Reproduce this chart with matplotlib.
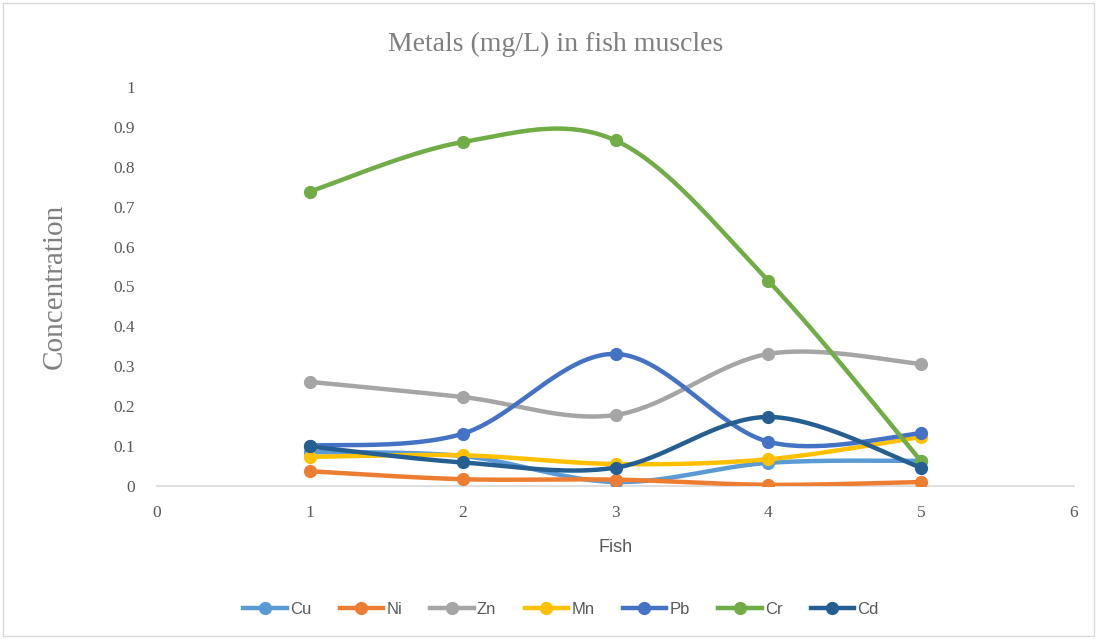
import numpy as np
import matplotlib
matplotlib.use('Agg')
import matplotlib.pyplot as plt
from matplotlib.patches import Rectangle

# fish number and metal concentrations (mg/L)
fish = [1, 2, 3, 4, 5]
cu = [0.085, 0.075, 0.010, 0.058, 0.063]
ni = [0.037, 0.017, 0.016, 0.003, 0.010]
zn = [0.261, 0.223, 0.178, 0.331, 0.306]
mn = [0.073, 0.077, 0.055, 0.067, 0.123]
pb = [0.101, 0.131, 0.331, 0.111, 0.132]
cr = [0.738, 0.862, 0.866, 0.514, 0.062]
cd = [0.099, 0.059, 0.046, 0.173, 0.046]

names = ['Cu', 'Ni', 'Zn', 'Mn', 'Pb', 'Cr', 'Cd']
series = [cu, ni, zn, mn, pb, cr, cd]
colors = ['#5B9BD5', '#ED7D31', '#A5A5A5', '#FFC000', '#4472C4', '#70AD47', '#255E91']


def smooth(x, y, n=40):
    # cubic Bezier through each point, Catmull-Rom style tangents
    x = np.asarray(x, float)
    y = np.asarray(y, float)
    px = np.concatenate([[x[0]], x, [x[-1]]])
    py = np.concatenate([[y[0]], y, [y[-1]]])
    t = np.linspace(0, 1, n)[:, None]
    xs, ys = [], []
    for i in range(len(x) - 1):
        p0 = np.array([x[i], y[i]])
        p3 = np.array([x[i + 1], y[i + 1]])
        p1 = p0 + (np.array([px[i + 2], py[i + 2]]) - np.array([px[i], py[i]])) / 6
        p2 = p3 - (np.array([px[i + 3], py[i + 3]]) - np.array([px[i + 1], py[i + 1]])) / 6
        pts = ((1 - t) ** 3) * p0 + 3 * ((1 - t) ** 2) * t * p1 + 3 * (1 - t) * t ** 2 * p2 + t ** 3 * p3
        xs.append(pts[:, 0])
        ys.append(pts[:, 1])
    return np.concatenate(xs), np.concatenate(ys)


fig = plt.figure(figsize=(10.97, 6.39), dpi=100)
ax = fig.add_axes([157 / 1097, 1 - 486 / 639, (1074 - 157) / 1097, (486 - 87) / 639])

for name, vals, c in zip(names, series, colors):
    sx, sy = smooth(fish, vals)
    ax.plot(sx, sy, color=c, lw=3.2, solid_capstyle='round', zorder=3)
    ax.plot(fish, vals, 'o', color=c, ms=8.5, zorder=3)
    ax.plot([], [], '-o', color=c, lw=3.2, ms=8.5, label=name)

ax.set_xlim(0, 6)
ax.set_ylim(0, 1)
ax.set_xticks(range(0, 7))
ax.set_yticks(np.arange(0, 1.01, 0.1))
ax.set_yticklabels(['0', '0.1', '0.2', '0.3', '0.4', '0.5', '0.6', '0.7', '0.8', '0.9', '1'])
for s in ['top', 'right', 'left']:
    ax.spines[s].set_visible(False)
ax.spines['bottom'].set_color('#D9D9D9')
ax.spines['bottom'].set_linewidth(1.2)
ax.tick_params(length=0, labelsize=12.5, labelcolor='#595959', pad=14)
for lab in ax.get_xticklabels() + ax.get_yticklabels():
    lab.set_family('Liberation Serif')
ax.tick_params(axis='y', pad=16)

fig.text(556 / 1097, 1 - 44 / 639, 'Metals (mg/L) in fish muscles', ha='center', va='center',
         family='Liberation Serif', fontsize=20, color='#7F7F7F')
fig.text(55 / 1097, 1 - 286 / 639, 'Concentration', rotation=90, ha='center', va='center',
         family='Liberation Serif', fontsize=21, color='#7F7F7F')
fig.text(616 / 1097, 1 - 548 / 639, 'Fish', ha='center', va='center',
         family='Liberation Sans', fontsize=13, color='#595959')

leg = fig.legend(loc='center', bbox_to_anchor=(561 / 1097, 1 - 609 / 639), ncol=7, frameon=False,
                 prop={'family': 'Liberation Sans', 'size': 12}, handlelength=2.6,
                 handletextpad=0.2, columnspacing=1.7)
for t in leg.get_texts():
    t.set_color('#595959')

fig.add_artist(Rectangle((3 / 1097, 3 / 639), 1 - 6 / 1097, 1 - 6 / 639, transform=fig.transFigure,
                         fill=False, edgecolor='#D9D9D9', lw=1))

fig.savefig('out.png', dpi=100)
